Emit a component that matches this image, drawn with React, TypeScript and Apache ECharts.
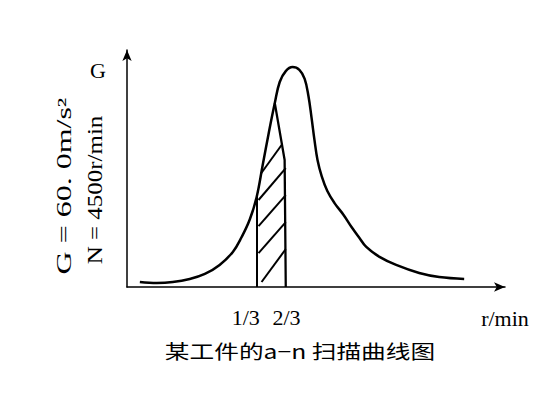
import React, { useEffect, useRef } from "react";
import * as echarts from "echarts";

// Main a-n scan curve (x: relative speed position, G: acceleration amplitude, arbitrary units 0-100)
const mainX = [3.4, 7.9, 12.1, 16.6, 20.6, 24.5, 28.0, 30.3, 32.5, 34.3, 35.9, 37.5, 39.1, 40.4, 42.0, 43.8, 45.6, 47.0, 48.0, 48.8, 49.6, 50.4, 51.5, 53.0, 54.9, 57.3, 59.4, 61.5, 63.3, 66.8, 71.2, 77.3, 82.6, 89.2];
const mainG = [2.1, 1.7, 2.1, 3.4, 5.5, 9.3, 14.8, 21.0, 28.6, 38.0, 51.5, 65.0, 77.6, 86.5, 91.1, 92.8, 91.6, 87.8, 80.6, 71.7, 62.0, 53.6, 46.8, 40.5, 35.4, 30.4, 25.3, 20.7, 16.9, 12.7, 9.3, 5.9, 4.2, 3.4];

// Inner narrow peak (right flank) bounding the shaded band
const innerX = [39.1, 41.7, 42.0];
const innerG = [77.6, 53.6, 0];

// Band borders (1/3 and 2/3 marks)
const bandLeftX = 34.4;
const bandLeftTop = 38.5;

// Hatch strokes inside the band: [x1, g1, x2, g2]
const hatch = [
  [35.5, 48.0, 40.9, 59.9],
  [34.8, 36.7, 42.0, 50.2],
  [34.8, 25.7, 42.0, 38.8],
  [34.8, 14.3, 42.0, 27.4],
  [35.6, 2.1, 42.0, 16.0],
];

// Tick labels
const tickValues = [31.4, 42.2];
const tickLabels = ["1/3", "2/3"];

const SERIF = "'Liberation Serif', 'DejaVu Serif', serif";

export default function App() {
  const ref = useRef<HTMLDivElement>(null);

  useEffect(() => {
    if (!ref.current) return;
    const chart = echarts.init(ref.current, undefined, { renderer: "svg" });

    const mainData = mainX.map((x, i) => [x, mainG[i]]);
    const innerData = innerX.map((x, i) => [x, innerG[i]]);
    const strokes = [
      { coords: [[bandLeftX, 0], [bandLeftX, bandLeftTop]] },
      ...hatch.map((h) => ({ coords: [[h[0], h[1]], [h[2], h[3]]] })),
    ];

    chart.setOption({
      animation: false,
      backgroundColor: "#ffffff",
      grid: { left: 127, right: 44, top: 50, bottom: 108 },
      xAxis: {
        type: "value",
        min: 0,
        max: 100,
        name: "r/min",
        nameLocation: "end",
        nameGap: 0,
        nameTextStyle: {
          color: "#000",
          fontFamily: SERIF,
          fontSize: 22,
          align: "center",
          verticalAlign: "top",
          padding: [20, 0, 0, 0],
        },
        axisLine: {
          show: true,
          symbol: ["none", "arrow"],
          symbolSize: [7, 11],
          lineStyle: { color: "#000", width: 1.5 },
        },
        axisTick: { show: false },
        splitLine: { show: false },
        axisLabel: {
          customValues: tickValues,
          formatter: (v: number) => {
            let best = 0;
            tickValues.forEach((t, i) => {
              if (Math.abs(t - v) < Math.abs(tickValues[best] - v)) best = i;
            });
            return tickLabels[best];
          },
          color: "#000",
          fontFamily: SERIF,
          fontSize: 22,
          margin: 19,
        },
      },
      yAxis: {
        type: "value",
        min: 0,
        max: 100,
        axisLine: {
          show: true,
          symbol: ["none", "arrow"],
          symbolSize: [7, 11],
          lineStyle: { color: "#000", width: 1.5 },
        },
        axisTick: { show: false },
        splitLine: { show: false },
        axisLabel: { show: false },
      },
      series: [
        {
          type: "line",
          data: mainData,
          smooth: 0.4,
          symbol: "none",
          lineStyle: { color: "#000", width: 2.5 },
        },
        {
          type: "line",
          data: innerData,
          smooth: false,
          symbol: "none",
          lineStyle: { color: "#000", width: 2.3 },
        },
        {
          type: "lines",
          coordinateSystem: "cartesian2d",
          data: strokes,
          lineStyle: { color: "#000", width: 2, opacity: 1 },
        },
      ],
      graphic: [
        {
          type: "text",
          x: 98,
          y: 70,
          style: {
            text: "G",
            fontFamily: SERIF,
            fontSize: 22,
            fill: "#000",
            align: "center",
            verticalAlign: "middle",
          },
        },
        {
          type: "text",
          x: 64,
          y: 186,
          rotation: Math.PI / 2,
          scaleX: 1.6,
          style: {
            text: "G = 60. 0m/s²",
            fontFamily: SERIF,
            fontSize: 20,
            fill: "#000",
            align: "center",
            verticalAlign: "middle",
          },
        },
        {
          type: "text",
          x: 95,
          y: 190,
          rotation: Math.PI / 2,
          scaleX: 1.25,
          style: {
            text: "N = 4500r/min",
            fontFamily: SERIF,
            fontSize: 20,
            fill: "#000",
            align: "center",
            verticalAlign: "middle",
          },
        },
        {
          type: "text",
          x: 300,
          y: 350,
          scaleX: 1.3,
          style: {
            text: "某工件的a−n 扫描曲线图",
            fontFamily: "'Noto Sans CJK SC', sans-serif",
            fontSize: 19,
            fill: "#000",
            align: "center",
            verticalAlign: "middle",
          },
        },
      ],
    });

    return () => chart.dispose();
  }, []);

  return (
    <div
      ref={ref}
      style={{ position: "absolute", left: 0, top: 0, width: 549, height: 395 }}
    />
  );
}
